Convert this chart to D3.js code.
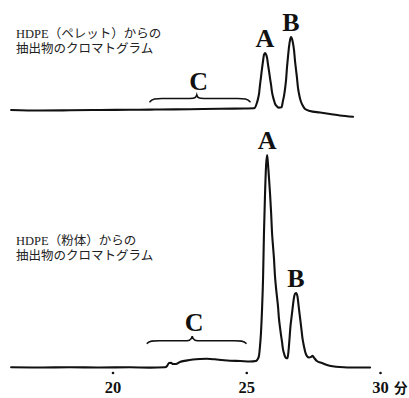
<!DOCTYPE html>
<html>
<head>
<meta charset="utf-8">
<script src="https://cdn.jsdelivr.net/npm/d3@7"></script>
<style>
  body { margin: 0; background: #fff; }
</style>
</head>
<body>
<div id="chart"></div>
<script>
// 目盛り (分)
const timeTicks = [20, 25, 30];

// HDPE（ペレット）: 溶出時間 (分) と応答 (粉体のピークA = 100 とした相対値)
const pelletTime = [16.21, 17.29, 18.41, 19.53, 20.65, 21.40, 21.78, 22.90, 24.02, 24.95, 25.29,
  25.40, 25.44, 25.48, 25.51, 25.55, 25.59, 25.63, 25.66, 25.70, 25.74, 25.78, 25.81, 25.85, 25.89,
  25.93, 25.96, 26.00, 26.04, 26.07, 26.15, 26.22, 26.32, 26.37, 26.41, 26.45, 26.49, 26.52, 26.56,
  26.60, 26.64, 26.67, 26.71, 26.75, 26.79, 26.82, 26.86, 26.90, 26.93, 26.97, 27.01, 27.05, 27.12,
  27.20, 27.38, 27.76, 28.13, 28.50, 28.99];
const pelletSignal = [3.76, 3.52, 3.62, 3.76, 3.85, 3.94, 3.99, 4.13, 4.32, 4.46, 4.55,
  7.18, 9.01, 11.6, 15.1, 19.1, 23.3, 27.0, 29.6, 30.5, 29.9, 28.1, 25.4, 22.1, 18.6,
  15.3, 12.4, 10.0, 8.17, 6.90, 5.45, 4.88, 5.07, 7.93, 10.3, 13.7, 18.1, 23.3, 28.7,
  33.5, 36.8, 38.0, 37.2, 34.9, 31.4, 27.2, 22.7, 18.4, 14.6, 11.5, 9.20, 7.51, 5.68,
  4.23, 3.29, 2.58, 1.88, 1.17, 0.56];

// HDPE（粉体）
const powderTime = [16.21, 17.29, 18.41, 19.53, 20.65, 21.40, 21.96, 22.04, 22.11, 22.19, 22.26,
  22.37, 22.52, 22.75, 23.01, 23.27, 23.53, 23.83, 24.09, 24.39, 24.77, 25.14, 25.36,
  25.40, 25.44, 25.48, 25.51, 25.55, 25.59, 25.63, 25.66, 25.70, 25.74, 25.78, 25.81, 25.85,
  25.89, 25.93, 25.96, 26.00, 26.04, 26.07, 26.11, 26.15, 26.19, 26.22, 26.26, 26.30, 26.34,
  26.37, 26.41, 26.45, 26.49, 26.54, 26.58, 26.62, 26.65, 26.69, 26.73, 26.77, 26.80, 26.84,
  26.86, 26.88, 26.92, 26.95, 26.99, 27.03, 27.07, 27.10, 27.14, 27.18, 27.21, 27.27, 27.35,
  27.42, 27.48, 27.53, 27.64, 27.83, 28.02, 28.50, 29.07, 29.63];
const powderSignal = [0.33, 0.23, 0.38, 0.23, 0.33, 0.19, 0.33, 0.94, 2.35, 2.44, 1.88,
  1.88, 2.82, 3.47, 3.99, 4.23, 4.32, 4.08, 3.76, 3.43, 3.29, 3.05, 3.29,
  3.66, 4.37, 6.06, 9.62, 16.4, 27.4, 43.0, 62.0, 80.8, 94.8, 100.0, 96.2, 89.2,
  81.7, 72.8, 64.3, 57.3, 50.7, 43.9, 38.0, 33.3, 28.5, 23.5, 19.2, 15.4, 12.0,
  9.1, 6.9, 5.4, 4.7, 4.55, 8.0, 14.1, 19.2, 23.5, 27.7, 31.9, 34.0, 35.1,
  35.2, 35.0, 33.3, 30.0, 25.8, 21.6, 17.4, 14.1, 11.3, 8.9, 7.3, 5.6, 4.9,
  5.2, 5.7, 4.9, 3.29, 2.35, 1.41, 0.47, 0.23, 0.23];

// ピーク名と位置 (上: ペレット, 下: 粉体)
const peakNames = ["A", "B"];
const pelletPeakTime = [25.70, 26.67];
const pelletPeakSignal = [30.5, 38.0];
const powderPeakTime = [25.78, 26.86];
const powderPeakSignal = [100.0, 35.2];

// C の範囲 (括弧): [ペレット, 粉体]
const braceStart = [21.40, 21.30];
const braceEnd = [25.14, 24.99];
const braceMid = [23.15, 22.98];
const braceFoot = [7.65, 11.6];
const braceLevel = [9.15, 12.8];
const braceTip = [10.8, 15.0];

const titles = [
  ["HDPE（ペレット）からの", "抽出物のクロマトグラム"],
  ["HDPE（粉体）からの", "抽出物のクロマトグラム"]
];

const width = 409, height = 398;

const svg = d3.select("#chart").append("svg")
  .attr("width", width)
  .attr("height", height)
  .style("background", "#fff");

const x = d3.scaleLinear().domain([20, 30]).range([112.5, 380]);
const yTop = d3.scaleLinear().domain([0, 100]).range([118, -95]);
const yBot = d3.scaleLinear().domain([0, 100]).range([368, 155]);

const serif = "'Liberation Serif', 'Times New Roman', serif";
const jp = "'Liberation Serif', 'Noto Sans CJK JP', sans-serif";

const panels = [
  { y: yTop, time: pelletTime, signal: pelletSignal, pt: pelletPeakTime, ps: pelletPeakSignal, titleY: 37.5 },
  { y: yBot, time: powderTime, signal: powderSignal, pt: powderPeakTime, ps: powderPeakSignal, titleY: 245 }
];

panels.forEach((p, i) => {
  const pts = p.time.map((t, k) => [t, p.signal[k]]);
  const line = d3.line()
    .x(d => x(d[0]))
    .y(d => p.y(d[1]))
    .curve(d3.curveMonotoneX);

  svg.append("path")
    .datum(pts)
    .attr("d", line)
    .attr("fill", "none")
    .attr("stroke", "#111")
    .attr("stroke-width", 2.1)
    .attr("stroke-linejoin", "round")
    .attr("stroke-linecap", "round");

  // ピーク名
  svg.selectAll(null)
    .data(peakNames)
    .enter().append("text")
    .attr("x", (d, k) => x(p.pt[k]))
    .attr("y", (d, k) => p.y(p.ps[k]) - 6)
    .attr("text-anchor", "middle")
    .attr("font-family", serif)
    .attr("font-weight", "bold")
    .attr("font-size", 26)
    .attr("fill", "#111")
    .text(d => d);

  // C の括弧
  const x1 = x(braceStart[i]), x2 = x(braceEnd[i]), xm = x(braceMid[i]);
  const yf = p.y(braceFoot[i]), yl = p.y(braceLevel[i]), yt = p.y(braceTip[i]);
  const brace = d3.path();
  brace.moveTo(x1, yf);
  brace.bezierCurveTo(x1 + 2, yl, x1 + 6, yl, x1 + 12, yl);
  brace.lineTo(xm - 10, yl);
  brace.bezierCurveTo(xm - 3, yl, xm - 1, yl, xm, yt);
  brace.bezierCurveTo(xm + 1, yl, xm + 3, yl, xm + 10, yl);
  brace.lineTo(x2 - 12, yl);
  brace.bezierCurveTo(x2 - 6, yl, x2 - 2, yl, x2, yf);
  svg.append("path")
    .attr("d", brace.toString())
    .attr("fill", "none")
    .attr("stroke", "#111")
    .attr("stroke-width", 1.6)
    .attr("stroke-linecap", "round");

  svg.append("text")
    .attr("x", xm + 2)
    .attr("y", yt - 5)
    .attr("text-anchor", "middle")
    .attr("font-family", serif)
    .attr("font-weight", "bold")
    .attr("font-size", 26)
    .attr("fill", "#111")
    .text("C");

  // 見出し
  svg.append("text")
    .attr("x", 16)
    .attr("y", p.titleY)
    .attr("font-family", jp)
    .attr("font-size", 12.5)
    .attr("fill", "#222")
    .selectAll("tspan")
    .data(titles[i])
    .enter().append("tspan")
    .attr("x", 16)
    .attr("dy", (d, k) => k === 0 ? 0 : 15)
    .text(d => d);
});

// 時間軸 (点の目盛りのみ)
const axisY = 373;
const xAxis = d3.axisBottom(x).tickValues(timeTicks).tickSize(0).tickPadding(8);
const gx = svg.append("g")
  .attr("transform", `translate(0,${axisY})`)
  .call(xAxis);
gx.select(".domain").remove();
gx.selectAll(".tick").append("circle")
  .attr("r", 1.3)
  .attr("fill", "#111");
gx.selectAll(".tick text")
  .attr("font-family", serif)
  .attr("font-weight", "bold")
  .attr("font-size", 16.5)
  .attr("fill", "#111");

svg.append("text")
  .attr("x", x(30) + 14)
  .attr("y", axisY + 20)
  .attr("font-family", "'Noto Sans CJK JP', sans-serif")
  .attr("font-weight", "bold")
  .attr("font-size", 13.5)
  .attr("fill", "#111")
  .text("分");
</script>
</body>
</html>
